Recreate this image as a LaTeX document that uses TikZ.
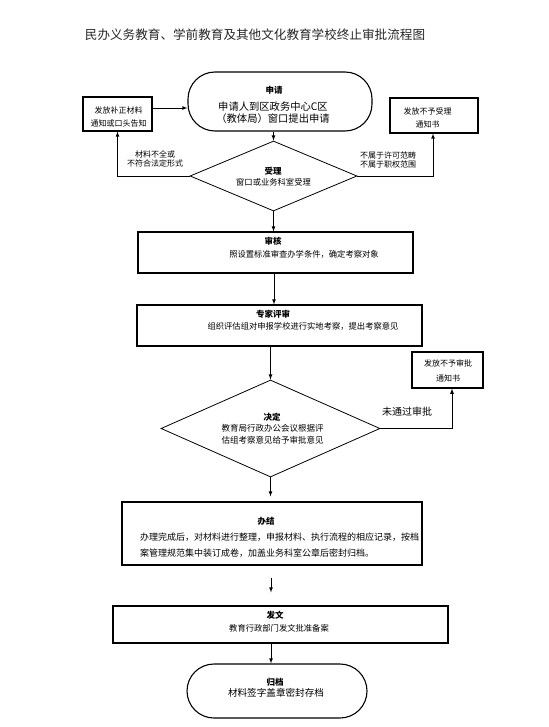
\documentclass[tikz,border=0pt]{standalone}
\usepackage{fontspec}
\setmainfont{Noto Sans CJK SC}
\usetikzlibrary{positioning,shapes.geometric}

\begin{document}
\begin{tikzpicture}[x=1pt,y=-1pt]
        \tikzstyle{block} = [rectangle, draw=black, line width=1.1, inner sep=0]
        \tikzstyle{term} = [rectangle, rounded corners=27pt, draw=black, line width=1.1, inner sep=0]
        \tikzstyle{choice} = [diamond, draw=black, line width=.8, inner sep=0]
        \tikzstyle{txt} = [align=center, inner sep=0, text=black, font=\fontsize{8.3}{9.5}\selectfont]
        \tikzstyle{hd} = [inner sep=0, text=black, font=\fontsize{8.5}{10}\selectfont\bfseries]
        \tikzstyle{line} = [-latex,draw=black,line width=.8]
        \useasboundingbox (0,0) rectangle (548,727);
        \node[text=black!85,font=\fontsize{12.6}{14}\selectfont] (title) at (255,35) {民办义务教育、学前教育及其他文化教育学校终止审批流程图};
        % shapes
        \node[term,minimum width=184pt,minimum height=59pt] (apply) at (280,101.5) {};
        \node[block,minimum width=69pt,minimum height=34pt] (fix) at (117.5,114) {};
        \node[block,minimum width=88pt,minimum height=35pt] (refuse) at (434,115.5) {};
        \node[choice,minimum width=167pt,minimum height=70pt] (accept) at (273.5,176) {};
        \node[block,minimum width=275pt,minimum height=41pt] (review) at (275.5,252.5) {};
        \node[block,minimum width=285pt,minimum height=41pt] (expert) at (279.5,325.5) {};
        \node[choice,minimum width=219pt,minimum height=97pt] (decide) at (270.5,428.5) {};
        \node[block,minimum width=71pt,minimum height=36pt] (deny) at (447.5,370) {};
        \node[block,minimum width=300pt,minimum height=63pt] (finish) at (272,533.5) {};
        \node[block,minimum width=335pt,minimum height=37pt] (issue) at (280.5,624.5) {};
        \node[term,minimum width=180pt,minimum height=54pt] (archive) at (277,691) {};
        % texts
        \node[hd] (applyhd) at (274,90) {申请};
        \node[txt,font=\fontsize{10.3}{11.5}\selectfont] (applytxt) at (273,112.5) {申请人到区政务中心C区\\（教体局）窗口提出申请};
        \node[txt,font=\fontsize{8}{13}\selectfont] (fixtxt) at (118.5,116.5) {发放补正材料\\通知或口头告知};
        \node[txt,font=\fontsize{8}{12.5}\selectfont] (refusetxt) at (427.5,118) {发放不予受理\\通知书};
        \node[hd] (accepthd) at (273,171) {受理};
        \node[txt] (accepttxt) at (273.5,182) {窗口或业务科室受理};
        \node[txt,font=\fontsize{8}{8.5}\selectfont] (lackmsg) at (155,159) {材料不全或\\不符合法定形式};
        \node[txt,font=\fontsize{8}{9.5}\selectfont] (scopemsg) at (388,160) {不属于许可范畴\\不属于职权范围};
        \node[hd] (reviewhd) at (273,241) {审核};
        \node[txt] (reviewtxt) at (304,254) {照设置标准审查办学条件，确定考察对象};
        \node[hd] (experthd) at (273,314) {专家评审};
        \node[txt] (experttxt) at (303,326) {组织评估组对申报学校进行实地考察，提出考察意见};
        \node[hd] (decidehd) at (272,417) {决定};
        \node[txt,font=\fontsize{8.5}{12}\selectfont] (decidetxt) at (272.5,434) {教育局行政办公会议根据评\\估组考察意见给予审批意见};
        \node[txt,font=\fontsize{8}{15}\selectfont] (denytxt) at (448,370.5) {发放不予审批\\通知书};
        \node[txt,font=\fontsize{10}{12}\selectfont] (failmsg) at (407,412) {未通过审批};
        \node[hd] (finishhd) at (266,521) {办结};
        \node[txt,align=left,anchor=west,font=\fontsize{9}{16}\selectfont] (finishtxt) at (140,545.5) {办理完成后，对材料进行整理，申报材料、执行流程的相应记录，按档\\案管理规范集中装订成卷，加盖业务科室公章后密封归档。};
        \node[hd] (issuehd) at (275,615) {发文};
        \node[txt] (issuetxt) at (279,628) {教育行政部门发文批准备案};
        \node[hd] (archivehd) at (275,682) {归档};
        \node[txt,font=\fontsize{9.6}{11}\selectfont] (archivetxt) at (276,692.5) {材料签字盖章密封存档};
        % connectors
        \draw[line] ([yshift=6pt]fix.east) to ([yshift=-6.5pt]apply.west);
        \draw[line] (apply.south -| accept.north) to (accept.north);
        \draw[line] (accept.west) -| (fix.south);
        \draw[line] (accept.east) -| ([xshift=-1pt]refuse.south);
        \draw[line] (accept.south) to (accept.south |- review.north);
        \draw[line] ([xshift=-1.5pt]review.south) to ([xshift=-1.5pt]review.south |- expert.north);
        \draw[line] (expert.south -| decide.north) to (decide.north);
        \draw[line] (decide.east) -| ([xshift=4.5pt]deny.south);
        \draw[line,shorten >=5pt] (decide.south) to (decide.south |- finish.north);
        \draw[line,shorten <=12pt,shorten >=13pt] ([xshift=-1pt]finish.south) to ([xshift=-1pt]finish.south |- issue.north);
        \draw[line] ([xshift=-9.5pt]issue.south) to ([xshift=-9.5pt]issue.south |- archive.north);
\end{tikzpicture}
\end{document}
